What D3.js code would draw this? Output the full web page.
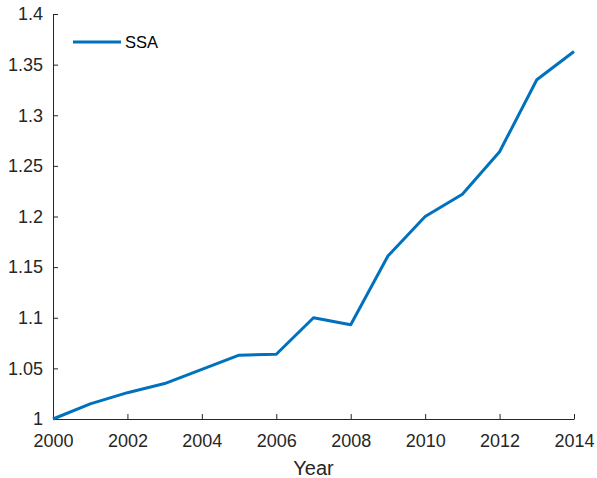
<!DOCTYPE html>
<html><head><meta charset="utf-8">
<script src="https://cdn.jsdelivr.net/npm/d3@7"></script>
<style>body{margin:0;background:#fff;} text{font-family:"Liberation Sans",Arial,sans-serif;}</style>
</head><body>
<svg id="c" width="597" height="478"></svg>
<script>
const years = [2000,2001,2002,2003,2004,2005,2006,2007,2008,2009,2010,2011,2012,2013,2014];
const ssa = [1.000,1.015,1.026,1.035,1.049,1.063,1.064,1.100,1.093,1.161,1.200,1.222,1.264,1.335,1.363];
const xTicks = [2000,2002,2004,2006,2008,2010,2012,2014];
const yTicks = [1,1.05,1.1,1.15,1.2,1.25,1.3,1.35,1.4];
const seriesName = "SSA";
const xLabel = "Year";

const svg = d3.select("#c");
const L=53, R=574, T=14, B=419;
const x = d3.scaleLinear().domain([2000,2014]).range([L,R]);
const y = d3.scaleLinear().domain([1,1.4]).range([B,T]);
const axCol = "#262626";

const xa = svg.append("g").attr("transform",`translate(0,${B})`)
  .call(d3.axisBottom(x).tickValues(xTicks).tickFormat(d3.format("d")).tickSizeInner(-5).tickSizeOuter(0).tickPadding(15));
const ya = svg.append("g").attr("transform",`translate(${L},0)`)
  .call(d3.axisLeft(y).tickValues(yTicks).tickFormat(d=>String(+d.toFixed(2))).tickSizeInner(-5).tickSizeOuter(0).tickPadding(10));
[xa,ya].forEach(g=>{
  g.select(".domain").attr("stroke",axCol);
  g.selectAll(".tick line").attr("stroke",axCol);
  g.selectAll("text").attr("fill",axCol).style("font-size","18px").style("font-family","Liberation Sans, Arial, sans-serif");
});

svg.append("path").datum(years.map((d,i)=>[d,ssa[i]]))
  .attr("fill","none").attr("stroke","#0072BD").attr("stroke-width",3)
  .attr("stroke-linejoin","round")
  .attr("d", d3.line().x(d=>x(d[0])).y(d=>y(d[1])));

svg.append("text").attr("x",(L+R)/2).attr("y",475).attr("text-anchor","middle")
  .attr("fill",axCol).style("font-size","20px").text(xLabel);

svg.append("line").attr("x1",73).attr("x2",121).attr("y1",42).attr("y2",42)
  .attr("stroke","#0072BD").attr("stroke-width",3);
svg.append("text").attr("x",125).attr("y",48).attr("fill","#000").style("font-size","16.5px").text(seriesName);
</script>
</body></html>
